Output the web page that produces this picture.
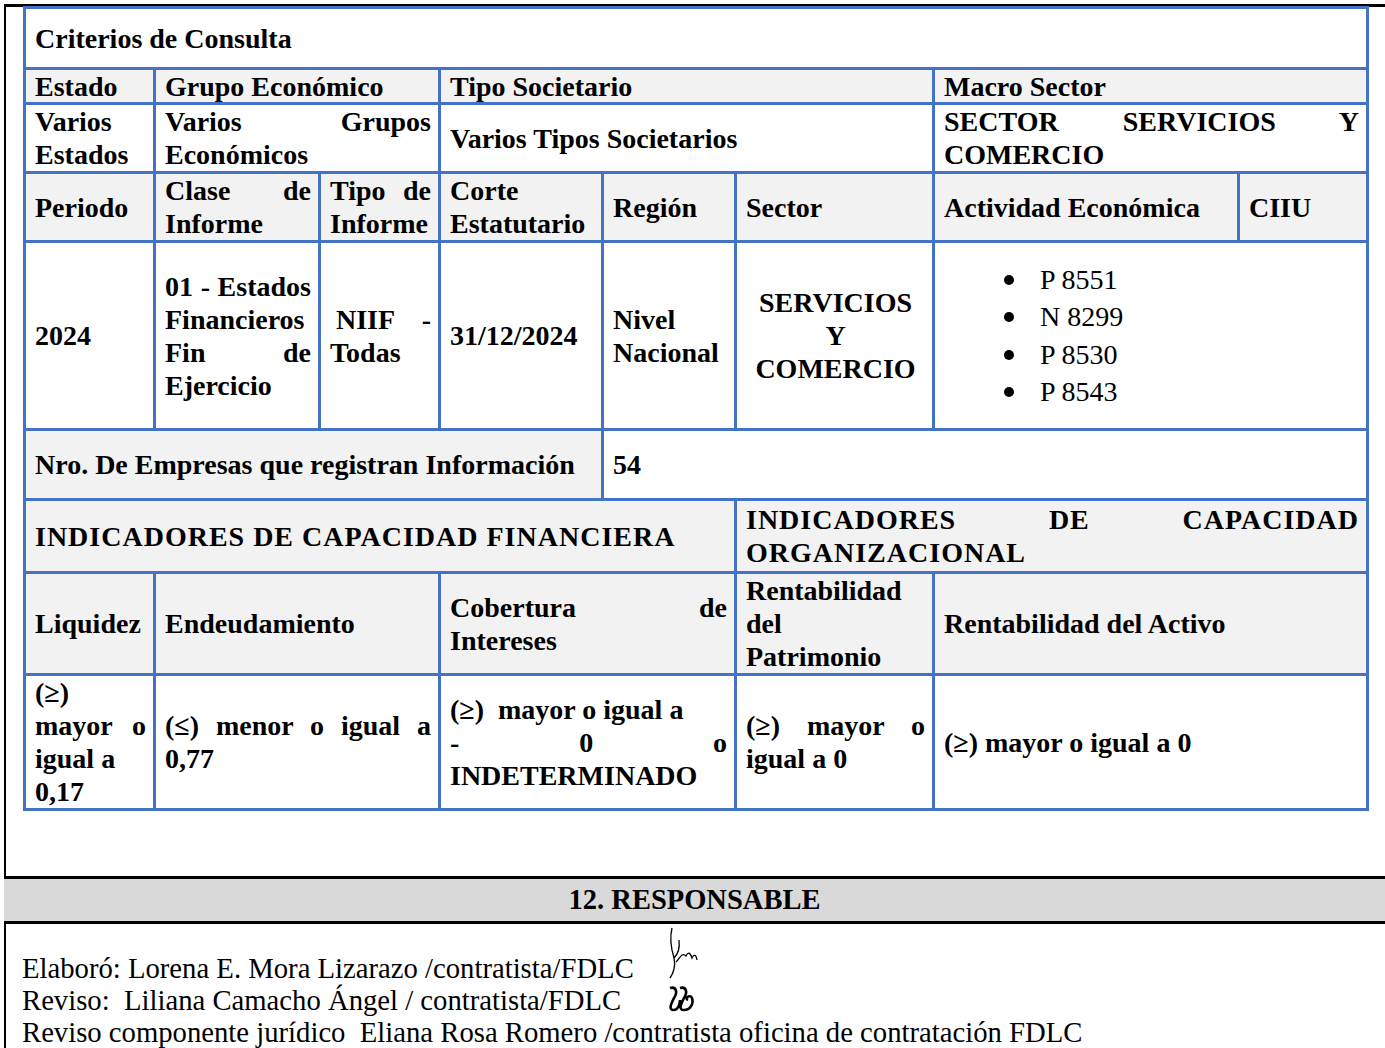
<!DOCTYPE html>
<html>
<head>
<meta charset="utf-8">
<script src="https://cdn.jsdelivr.net/npm/chart.js"></script>
<style>
  html, body { margin: 0; padding: 0; }
  body { width: 1385px; height: 1048px; position: relative; overflow: hidden; background: #fff; color: #000; }
  .frame-top { position: absolute; left: 4px; top: 4px; width: 1381px; height: 3px; background: #000; }
  .frame-left { position: absolute; left: 4px; width: 2px; background: #000; }
  .band { position: absolute; left: 4px; top: 876px; width: 1381px; height: 42px; background: #D9D9D9;
          border-top: 3px solid #000; border-bottom: 3px solid #000;
          font: bold 28.5px/42px "Liberation Serif", serif; text-align: center; }
  #criterios { position: absolute; left: 23px; top: 6px; border-collapse: collapse; table-layout: fixed; width: 1343px; }
  #criterios td { border: 3px solid #4472C4; padding: 0 7px 0 9px; font: bold 28px/33px "Liberation Serif", serif;
                  vertical-align: middle; overflow: hidden; }
  #criterios td.hd { background: #F2F2F2; }
  #criterios td.center { text-align: center; }
  #criterios tr.tight td { line-height: 29px; }
  #criterios tr.wide td { letter-spacing: 1px; }
  .ln { white-space: nowrap; }
  .ln.j { text-align: justify; text-align-last: justify; white-space: normal; }
  .ln.ind { padding-left: 6px; }
  .codes { font-weight: normal; line-height: 37.5px; }
  .codes div { position: relative; padding-left: 96px; }
  .codes div i { position: absolute; left: 60px; top: 14px; width: 10px; height: 10px; border-radius: 50%; background: #000; }
  .footer { position: absolute; left: 22px; top: 952px; font: 28.7px/32px "Liberation Serif", serif; white-space: nowrap; }
  svg.sign { position: absolute; }
</style>
</head>
<body>
<div class="frame-top"></div>
<div class="frame-left" style="top:4px;height:873px"></div>
<div class="frame-left" style="top:921px;height:127px"></div>
<table id="criterios"><colgroup id="cols"></colgroup><tbody id="tb"></tbody></table>
<div class="band" id="band"></div>
<div class="footer" id="footer"></div>
<svg class="sign" style="left:664px;top:922px" width="40" height="62" viewBox="0 0 40 62">
  <path d="M8 6 C6 14 7 26 10 36 C12 44 9 52 6 56 M10 36 C14 32 16 26 15 18 M12 40 C16 36 18 30 22 34 C24 30 26 30 28 36 C30 32 32 32 33 38"
        fill="none" stroke="#000" stroke-width="1.3"/>
</svg>
<svg class="sign" style="left:664px;top:984px" width="40" height="30" viewBox="0 0 40 30">
  <path d="M6 4 C12 2 14 8 10 14 C7 20 4 26 10 26 C14 26 16 20 16 16 M16 4 C22 2 24 8 20 14 C17 20 14 26 20 26 C26 26 30 20 28 14 C26 10 20 14 24 16"
        fill="none" stroke="#000" stroke-width="2.6"/>
</svg>
<script>
// '|' = justified line break, '\n' = plain line break, leading '>' = small indent
const consultaTitle = 'Criterios de Consulta';
const filterHeaders = ['Estado', 'Grupo Económico', 'Tipo Societario', 'Macro Sector'];
const filterValues = ['Varios\nEstados', 'Varios Grupos|Económicos', 'Varios Tipos Societarios', 'SECTOR SERVICIOS Y|COMERCIO'];
const reportHeaders = ['Periodo', 'Clase de|Informe', 'Tipo de|Informe', 'Corte\nEstatutario', 'Región', 'Sector', 'Actividad Económica', 'CIIU'];
const reportValues = ['2024', '01 - Estados|Financieros\nFin de|Ejercicio', '>NIIF -|Todas', '31/12/2024', 'Nivel\nNacional', 'SERVICIOS\nY\nCOMERCIO'];
const ciiuCodes = ['P 8551', 'N 8299', 'P 8530', 'P 8543'];
const companiesLabel = 'Nro. De Empresas que registran Información';
const companiesCount = 54;
const indicatorGroups = ['INDICADORES DE CAPACIDAD FINANCIERA', 'INDICADORES DE CAPACIDAD|ORGANIZACIONAL'];
const indicatorNames = ['Liquidez', 'Endeudamiento', 'Cobertura de|Intereses', 'Rentabilidad\ndel\nPatrimonio', 'Rentabilidad del Activo'];
const indicatorRules = ['(≥)\nmayor o|igual a\n0,17', '(≤) menor o igual a|0,77', '(≥)  mayor o igual a\n-  0  o|INDETERMINADO', '(≥)  mayor  o|igual a 0', '(≥) mayor o igual a 0'];
const sectionTitle = '12. RESPONSABLE';
const responsables = [
    'Elaboró: Lorena E. Mora Lizarazo /contratista/FDLC',
    'Reviso:  Liliana Camacho Ángel / contratista/FDLC',
    'Reviso componente jurídico  Eliana Rosa Romero /contratista oficina de contratación FDLC'
];

// layout
const colWidths = [130, 165, 120, 163, 133, 198, 305, 129];
const rowHeights = [61, 35, 69, 69, 188, 70, 73, 102, 135];
const rowClasses = ['', 'tight', '', '', '', '', 'wide', '', ''];

function esc(s) {
    return s.replace(/&/g, '&amp;').replace(/</g, '&lt;').replace(/ {2}/g, ' &nbsp;');
}

function lines(text) {
    const out = [];
    let cur = '';
    for (const ch of text) {
        if (ch === '|' || ch === '\n') {
            out.push({ t: cur, j: ch === '|' });
            cur = '';
        } else {
            cur += ch;
        }
    }
    out.push({ t: cur, j: false });
    return out.map(l => {
        const ind = l.t.startsWith('>');
        const cls = 'ln' + (l.j ? ' j' : '') + (ind ? ' ind' : '');
        return `<div class="${cls}">${esc(ind ? l.t.slice(1) : l.t)}</div>`;
    }).join('');
}

function td(text, span, cls) {
    return `<td colspan="${span}" class="${cls || ''}">${lines(String(text))}</td>`;
}

document.getElementById('cols').innerHTML = colWidths.map(w => `<col style="width:${w}px">`).join('');

const rows = [];
rows.push(td(consultaTitle, 8));
rows.push(filterHeaders.map((h, i) => td(h, [1, 2, 3, 2][i], 'hd')).join(''));
rows.push(filterValues.map((v, i) => td(v, [1, 2, 3, 2][i])).join(''));
rows.push(reportHeaders.map(h => td(h, 1, 'hd')).join(''));
rows.push(reportValues.map((v, i) => td(v, 1, i === 5 ? 'center' : '')).join('') +
    `<td colspan="2"><div class="codes">${ciiuCodes.map(c => `<div><i></i>${esc(c)}</div>`).join('')}</div></td>`);
rows.push(td(companiesLabel, 4, 'hd') + td(companiesCount, 4));
rows.push(indicatorGroups.map((g, i) => td(g, [5, 3][i], 'hd')).join(''));
rows.push(indicatorNames.map((n, i) => td(n, [1, 2, 2, 1, 2][i], 'hd')).join(''));
rows.push(indicatorRules.map((r, i) => td(r, [1, 2, 2, 1, 2][i])).join(''));

document.getElementById('tb').innerHTML = rows.map((r, i) =>
    `<tr class="${rowClasses[i]}" style="height:${rowHeights[i]}px">${r}</tr>`).join('');
document.getElementById('band').textContent = sectionTitle;
document.getElementById('footer').innerHTML = responsables.map(esc).join('<br>');
</script>
</body>
</html>
